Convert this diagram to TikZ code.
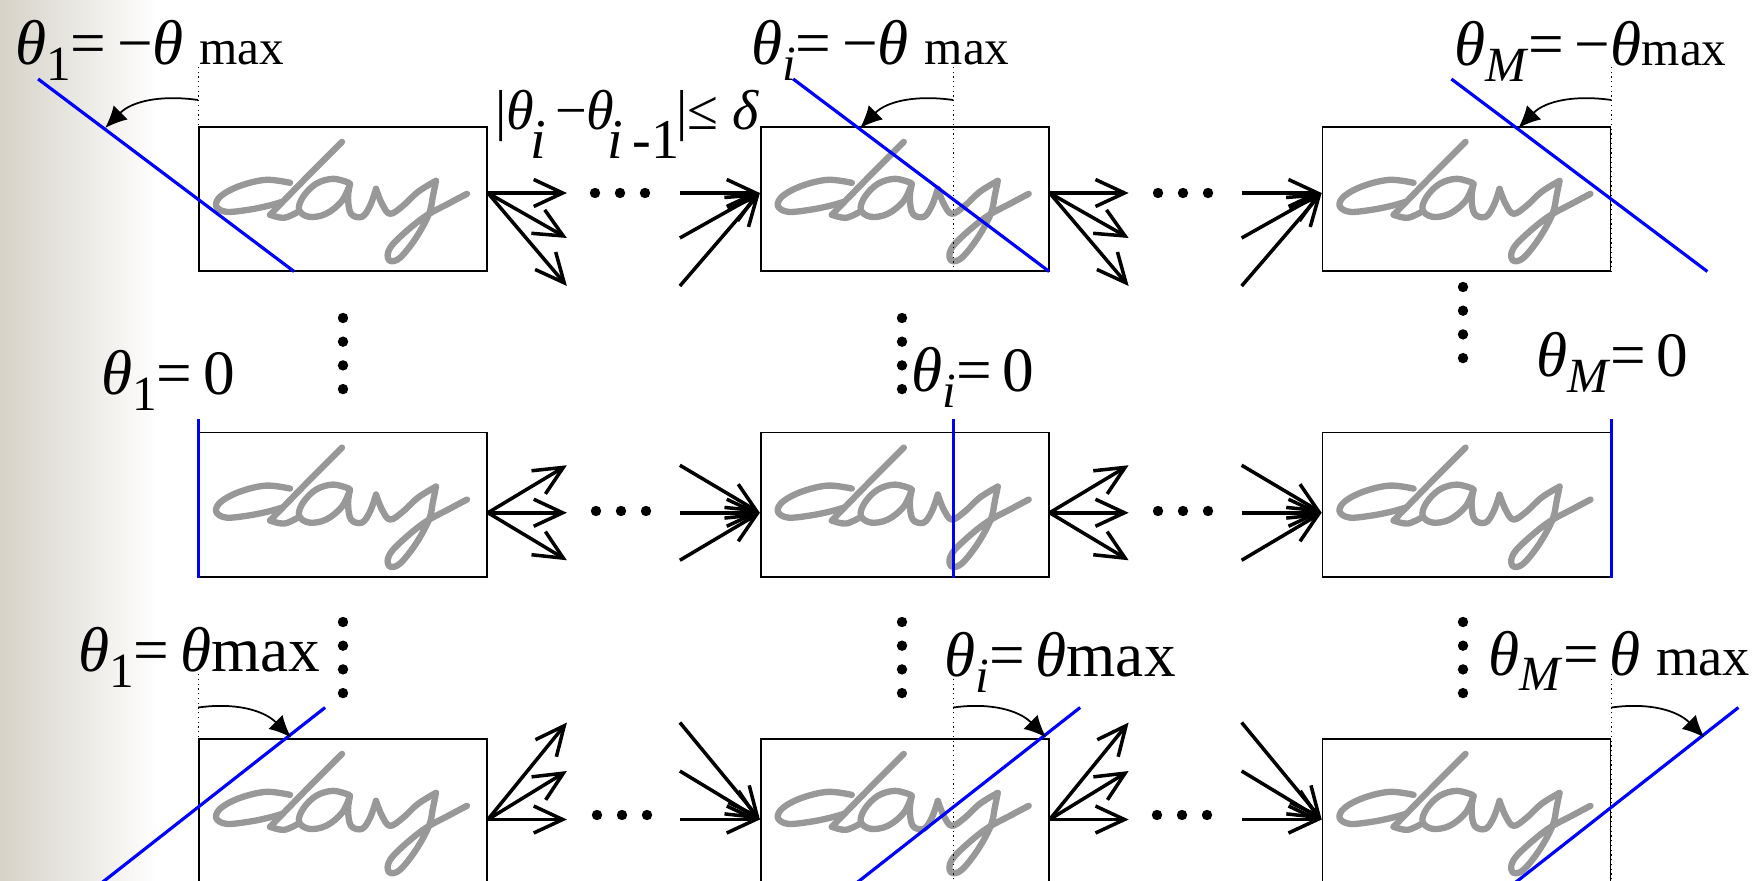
\documentclass[tikz,border=0pt]{standalone}
\usepackage{fontspec}
\setmainfont{Liberation Serif}
\usetikzlibrary{arrows.meta,positioning,calc}
\definecolor{slideTint}{RGB}{214,210,200}
\definecolor{inkGray}{RGB}{152,152,152}
\newcommand{\thet}{\textit{θ}}
\newcommand{\lsub}[1]{\raisebox{-0.25em}{\fontsize{14}{16}\selectfont #1}}
\newcommand{\mx}{{\fontsize{14}{16}\selectfont max}}

\tikzset{
  pics/dayword/.style={code={
    \begin{scope}[x=0.01cm, y=-0.01cm, inkGray, line width=1.8pt, line cap=round, line join=round]
      % d: bowl, ascender, joining stroke
      \draw plot[smooth, tension=0.6] coordinates {(92,57) (68,54) (42,60) (23,70) (18,80) (28,86) (50,84) (70,80) (84,76)};
      \draw plot[smooth, tension=0.5] coordinates {(144,16) (110,50) (72,89)};
      \draw plot[smooth, tension=0.6] coordinates {(72,89) (86,92) (100,86)};
      % a
      \draw plot[smooth, tension=0.6] coordinates {(151,57) (135,53) (118,58) (105,71) (101,84) (111,91) (128,88) (144,75) (152,58)};
      \draw plot[smooth, tension=0.6] coordinates {(152,58) (150,72) (153,88) (164,91) (172,80) (178,63)};
      % y
      \draw plot[smooth, tension=0.6] coordinates {(178,63) (184,78) (192,88) (205,80) (220,66) (238,55)};
      \draw plot[smooth, tension=0.6] coordinates {(238,55) (235,70) (231,88) (218,112) (202,132) (192,135) (190,127) (198,115) (225,92) (252,77) (269,68)};
    \end{scope}
  }}
}

\begin{document}
\begin{tikzpicture}[
    wordbox/.style={draw, line width=0.5pt, minimum width=2.88cm, minimum height=1.445cm, inner sep=0pt},
    tilt/.style={blue, line width=0.9pt},
    pivot/.style={densely dotted, line width=0.35pt},
    swing/.style={-{Latex[length=2.2mm,width=2mm]}, line width=0.5pt},
    hop/.style={-{Straight Barb[length=2.9mm,width=2.7mm]}, line width=1pt},
    lbl/.style={anchor=base west, inner sep=0pt, font=\fontsize{18}{21}\selectfont}
  ]
  \useasboundingbox (0,0) rectangle (17.55,8.8);
  \fill[white] (0,0) rectangle (17.55,8.8);
  \shade[left color=slideTint, right color=white] (0,0) rectangle (1.6,8.8);

  % the nine word images, row r and column k as b<r><k>
  \node[wordbox] (b11) at (3.43,6.81) {};
  \node[wordbox, right=2.72cm of b11] (b12) {};
  \node[wordbox, right=2.72cm of b12] (b13) {};
  \node[wordbox, below=1.595cm of b11] (b21) {};
  \node[wordbox, right=2.72cm of b21] (b22) {};
  \node[wordbox, right=2.72cm of b22] (b23) {};
  \node[wordbox, below=1.6cm of b21] (b31) {};
  \node[wordbox, right=2.72cm of b31] (b32) {};
  \node[wordbox, right=2.72cm of b32] (b33) {};
  \foreach \b in {b11,b12,b13,b21,b22,b23,b31,b32,b33}
    \pic at (\b.north west) {dayword};

  % pivot of each slant line: left edge, two thirds across, right edge
  \foreach \r in {1,2,3} {
    \coordinate (c\r1) at (b\r1.west);
    \coordinate (c\r2) at ($(b\r2.west)!0.667!(b\r2.east)$);
    \coordinate (c\r3) at (b\r3.east);
  }

  % row 1: -theta_max
  \foreach \k in {1,2,3} {
    \draw[pivot] (c1\k |- b1\k.south) -- ++(0,2.065);
    \draw[tilt] ($(c1\k)+(-1.60,1.20)$) -- ($(c1\k)+(0.96,-0.725)$);
    \draw[swing] ($(c1\k)+(0,0.99)$) to[out=172,in=45] ($(c1\k)+(-0.93,0.71)$);
  }
  % row 2: zero
  \foreach \k in {1,2,3}
    \draw[tilt] (c2\k |- b2\k.south) -- ++(0,1.59);
  % row 3: +theta_max
  \foreach \k in {1,2,3} {
    \draw[pivot] (c3\k |- b3\k.south) -- ++(0,2.1);
    \draw[tilt] ($(c3\k)+(-0.96,-0.715)$) -- ($(c3\k)+(1.27,1.035)$);
    \draw[swing] ($(c3\k)+(0,1.035)$) to[out=8,in=135] ($(c3\k)+(0.93,0.735)$);
  }

  % transitions between neighbouring columns
  \foreach \a/\b/\dy/\da/\db/\dc in {b11/b12/0.06/0/-0.45/-0.93, b12/b13/0.06/0/-0.45/-0.93,
      b21/b22/-0.08/0.475/0/-0.475, b22/b23/-0.08/0.475/0/-0.475,
      b31/b32/-0.085/0/0.485/0.97, b32/b33/-0.085/0/0.485/0.97} {
    \coordinate (\a-o) at ([yshift=\dy cm]\a.east);
    \coordinate (\b-i) at ([yshift=\dy cm]\b.west);
    \foreach \d [count=\n] in {\da,\db,\dc} {
      \coordinate (\a-out\n) at ($(\a-o)+(0.79,\d)$);
      \coordinate (\b-in\n) at ($(\b-i)+(-0.80,\d)$);
      \draw[hop] (\a-o) -- (\a-out\n);
      \draw[hop] (\b-in\n) -- (\b-i);
    }
  }

  % horizontal and vertical ellipses
  \foreach \x/\y in {6.20/6.87, 11.83/6.87, 6.21/3.69, 11.83/3.69, 6.22/0.65, 11.82/0.65}
    \fill ({\x-0.25},\y) circle (0.052) (\x,\y) circle (0.052) ({\x+0.25},\y) circle (0.052);
  \foreach \x/\y in {3.43/5.62, 9.02/5.62, 14.63/5.93, 3.43/2.58, 9.02/2.58, 14.63/2.58}
    \foreach \s in {0,1,2,3}
      \fill (\x,{\y-0.237*\s}) circle (0.052);

  % angle labels
  \node[lbl] (l11) at (0.145,8.15) {\thet\lsub{1}=\,−\thet\ \mx};
  \node[lbl] (l12) at (7.505,8.15) {\thet\lsub{\textit{i}}=\,−\thet\ \mx};
  \node[lbl] (l13) at (14.537,8.14) {\thet\lsub{\textit{M}}=\,−\thet\mx};
  \node[lbl] (l21) at (1.005,4.85) {\thet\lsub{1}=\,0};
  \node[lbl] (l22) at (9.107,4.883) {\thet\lsub{\textit{i}}=\,0};
  \node[lbl] (l23) at (15.357,5.033) {\thet\lsub{\textit{M}}=\,0};
  \node[lbl] (l31) at (0.775,2.083) {\thet\lsub{1}=\,\thet max};
  \node[lbl] (l32) at (9.44,2.033) {\thet\lsub{\textit{i}}=\,\thet max};
  \node[lbl] (l33) at (14.88,2.05) {\thet\lsub{\textit{M}}=\,\thet\ {\fontsize{15.5}{17}\selectfont max}};
  \node[lbl, font=\fontsize{16}{18}\selectfont] (bound) at (4.95,7.50)
    {|\thet\kern-0.08em\raisebox{-0.5em}{\textit{i}}\,−\thet\kern-0.12em\raisebox{-0.5em}{\textit{i}\,-1}\kern-0.05em|≤\ \textit{δ}};
\end{tikzpicture}
\end{document}
